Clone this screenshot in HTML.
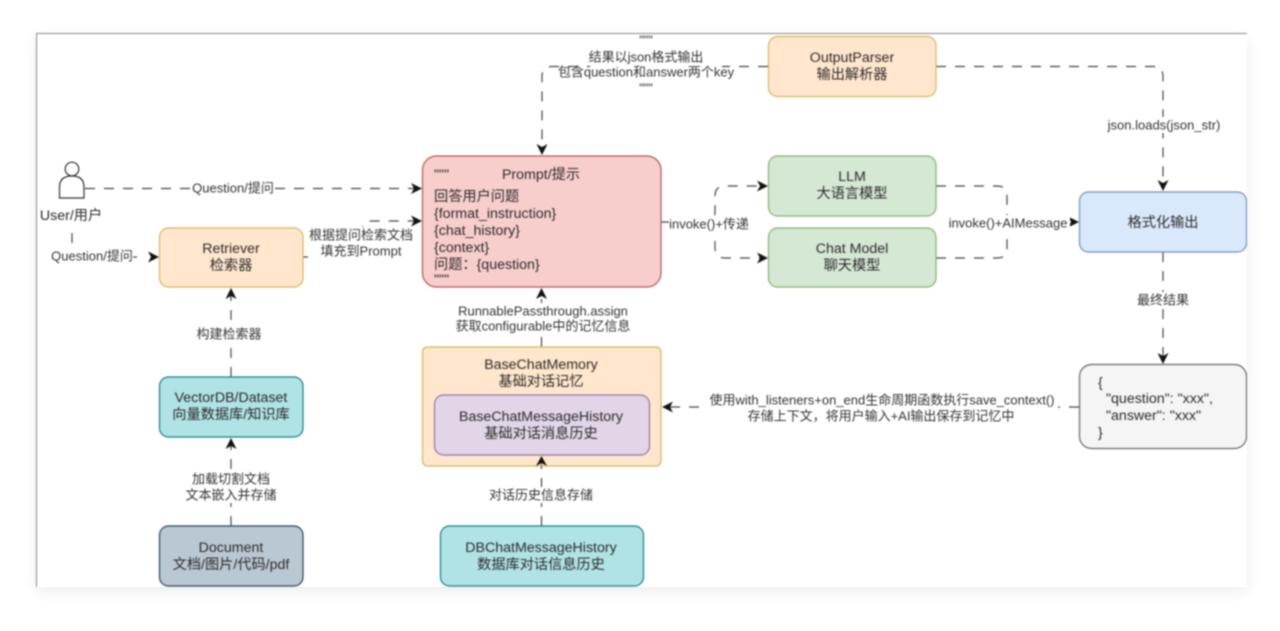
<!DOCTYPE html>
<html>
<head>
<meta charset="utf-8">
<style>
html,body{margin:0;padding:0;width:1280px;height:631px;background:#fff;overflow:hidden}
#frame{position:absolute;left:36px;top:33px;width:1211px;height:554px;background:#fff;box-shadow:0 5px 14px rgba(0,0,0,.07)}
svg{position:absolute;left:0;top:0;filter:blur(.7px)}
text{font-family:"Liberation Sans","Noto Sans CJK SC",sans-serif;fill:#2a2a2a;text-anchor:middle;dominant-baseline:central}
.n{font-size:14.2px}
.e{font-size:13px;fill:#333}
.l{text-anchor:start}
.c{fill:none;stroke:#444;stroke-width:1.2;stroke-dasharray:10 9}
.h{fill:#111;stroke:none}
</style>
</head>
<body>
<div id="frame"></div>
<svg width="1280" height="631" viewBox="0 0 1280 631" xmlns="http://www.w3.org/2000/svg">
<defs>
<clipPath id="cl"><rect x="36" y="33" width="1211" height="554"/></clipPath>
</defs>
<path d="M36.5 587V33.5H1247" fill="none" stroke="#8a8a8a" stroke-width="1"/>
<g clip-path="url(#cl)">
<!-- connectors -->
<path class="c" d="M85 188.5H414"/>
<path class="c" d="M72 233V243"/>
<path class="c" d="M133 257H137"/>
<path class="c" d="M303 257H352Q362 257 362 247V231Q362 221 372 221H414"/>
<path class="c" d="M231 377V296"/>
<path class="c" d="M231 526V446"/>
<path class="c" d="M541.5 347V297"/>
<path class="c" d="M541.5 526V464"/>
<path class="c" d="M768 66.5H552Q542 66.5 542 76.5V147"/>
<path class="c" d="M936 66.5H1153Q1163 66.5 1163 76.5V184"/>
<path class="c" d="M661 222H705Q715 222 715 212V196Q715 186 725 186H760"/>
<path class="c" d="M715 222V248Q715 258 725 258H760"/>
<path class="c" d="M936 186H997Q1007 186 1007 196V222"/>
<path class="c" d="M936 258H997Q1007 258 1007 248V222H1070"/>
<path class="c" d="M1163 252V356"/>
<path class="c" d="M1079 407H670"/>
<!-- arrowheads -->
<path class="h" d="M422 188.5L411 183L414 188.5L411 194Z"/>
<path class="h" d="M422 221L411 215.5L414 221L411 226.5Z"/>
<path class="h" d="M159 257L148 251.500L151 257L148 262.500Z"/>
<path class="h" d="M768 186L757 180.500L760 186L757 191.500Z"/>
<path class="h" d="M768 258L757 252.500L760 258L757 263.500Z"/>
<path class="h" d="M1079 222L1068 216.500L1071 222L1068 227.500Z"/>
<path class="h" d="M231 288L225.500 299L231 296L236.500 299Z"/>
<path class="h" d="M231 438L225.500 449L231 446L236.500 449Z"/>
<path class="h" d="M541.500 288L536 299L541.500 296L547 299Z"/>
<path class="h" d="M542 155L536.500 144L542 147L547.500 144Z"/>
<path class="h" d="M1163 191L1157.500 180L1163 183L1168.500 180Z"/>
<path class="h" d="M1163 364L1157.500 353L1163 356L1168.500 353Z"/>
<path class="h" d="M662 407L673 401.500L670 407L673 412.500Z"/>
<!-- user -->
<circle cx="72" cy="169" r="6.800" fill="#fff" stroke="#333" stroke-width="1.200"/>
<path d="M59.500 198V187Q59.500 176 72 176Q84 176 84 187V198Z" fill="#fff" stroke="#333" stroke-width="1.200"/>
<!-- nodes -->
<rect x="159.500" y="228" width="143.500" height="59" rx="9" fill="#ffe6cc" stroke="#d6b656" stroke-width="1.200"/>
<rect x="159.500" y="377" width="143.500" height="60" rx="9" fill="#b0e3e6" stroke="#0e8088" stroke-width="1.200"/>
<rect x="159.500" y="526" width="143.500" height="60" rx="9" fill="#bac8d3" stroke="#23445d" stroke-width="1.200"/>
<rect x="422.500" y="156" width="238.500" height="131" rx="14" fill="#f8cecc" stroke="#b85450" stroke-width="1.200"/>
<rect x="768.500" y="36.500" width="167.500" height="60" rx="9" fill="#ffe6cc" stroke="#d6b656" stroke-width="1.200"/>
<rect x="768.500" y="156" width="167.500" height="60" rx="9" fill="#d5e8d4" stroke="#82b366" stroke-width="1.200"/>
<rect x="768.500" y="228" width="167.500" height="59" rx="9" fill="#d5e8d4" stroke="#82b366" stroke-width="1.200"/>
<rect x="1079.500" y="192" width="167" height="60" rx="9" fill="#dae8fc" stroke="#6c8ebf" stroke-width="1.200"/>
<rect x="1079.500" y="364.500" width="167" height="84" rx="12" fill="#f5f5f5" stroke="#666" stroke-width="1.200"/>
<rect x="422.500" y="347" width="238.500" height="119" rx="5" fill="#ffe6cc" stroke="#d6b656" stroke-width="1.200"/>
<rect x="434.500" y="395" width="215" height="60" rx="9" fill="#e1d5e7" stroke="#9673a6" stroke-width="1.200"/>
<rect x="440.500" y="526" width="203" height="60" rx="9" fill="#b0e3e6" stroke="#0e8088" stroke-width="1.200"/>
<!-- arrow overlapping the memory box -->
<path d="M541.500 462V466" fill="none" stroke="#777" stroke-width="1.200"/>
<path class="h" d="M541.500 456L536 466L541.500 463L547 466Z"/>
<!-- label backgrounds -->
<g fill="#fff">
<rect x="192" y="180" width="82" height="16"/>
<rect x="308" y="227" width="106" height="32"/>
<rect x="196" y="326" width="68" height="16"/>
<rect x="191" y="471" width="80" height="32"/>
<rect x="458" y="303" width="176" height="31"/>
<rect x="489" y="487" width="105" height="16"/>
<rect x="590" y="50" width="132" height="30"/>
<rect x="1106" y="117" width="115" height="16"/>
<rect x="669" y="216" width="82" height="16"/>
<rect x="948" y="215" width="122" height="16"/>
<rect x="1136" y="292" width="54" height="16"/>
<rect x="707" y="392" width="351" height="32"/>
</g>
<!-- node text -->
<text class="n" x="231" y="249">Retriever</text>
<text class="n" x="231" y="266">检索器</text>
<text class="n" x="231" y="398">VectorDB/Dataset</text>
<text class="n" x="231" y="415">向量数据库/知识库</text>
<text class="n" x="231" y="548">Document</text>
<text class="n" x="231" y="565">文档/图片/代码/pdf</text>
<text class="n" x="541" y="175">Prompt/提示</text>
<text class="n l" x="434" y="175">"""</text>
<text class="n l" x="434" y="197">回答用户问题</text>
<text class="n l" x="434" y="214">{format_instruction}</text>
<text class="n l" x="434" y="231">{chat_history}</text>
<text class="n l" x="434" y="248">{context}</text>
<text class="n l" x="434" y="265">问题：{question}</text>
<text class="n l" x="434" y="280">"""</text>
<text class="n" x="852" y="58">OutputParser</text>
<text class="n" x="852" y="75">输出解析器</text>
<text class="n" x="852" y="177">LLM</text>
<text class="n" x="852" y="194">大语言模型</text>
<text class="n" x="852" y="249">Chat Model</text>
<text class="n" x="852" y="266">聊天模型</text>
<text class="n" x="1163" y="223">格式化输出</text>
<text class="n l" x="1098" y="383">{</text>
<text class="n l" x="1106" y="399">"question": "xxx",</text>
<text class="n l" x="1106" y="416">"answer": "xxx"</text>
<text class="n l" x="1098" y="433">}</text>
<text class="n" x="541" y="365">BaseChatMemory</text>
<text class="n" x="541" y="382">基础对话记忆</text>
<text class="n" x="541" y="417">BaseChatMessageHistory</text>
<text class="n" x="541" y="434">基础对话消息历史</text>
<text class="n" x="541" y="548">DBChatMessageHistory</text>
<text class="n" x="541" y="565">数据库对话信息历史</text>
<text class="n" x="71" y="216">User/用户</text>
<!-- edge labels -->
<text class="e" x="233" y="188">Question/提问</text>
<text class="e" x="92" y="256">Question/提问</text>
<text class="e" x="361" y="235">根据提问检索文档</text>
<text class="e" x="361" y="251">填充到Prompt</text>
<text class="e" x="229" y="334">构建检索器</text>
<text class="e" x="231" y="479">加载切割文档</text>
<text class="e" x="231" y="495">文本嵌入并存储</text>
<text class="e" x="543" y="311">RunnablePassthrough.assign</text>
<text class="e" x="543" y="326">获取configurable中的记忆信息</text>
<text class="e" x="541" y="495">对话历史信息存储</text>
<text class="e" x="646" y="40">"""</text>
<text class="e" x="646" y="57">结果以json格式输出</text>
<text class="e" x="646" y="72">包含question和answer两个key</text>
<text class="e" x="646" y="88">"""</text>
<text class="e" x="1164" y="125">json.loads(json_str)</text>
<text class="e" x="709" y="224">invoke()+传递</text>
<text class="e" x="1008" y="223">invoke()+AIMessage</text>
<text class="e" x="1163" y="300">最终结果</text>
<text class="e" x="882" y="400">使用with_listeners+on_end生命周期函数执行save_context()</text>
<text class="e" x="881" y="416">存储上下文，将用户输入+AI输出保存到记忆中</text>
</g>
</svg>
</body>
</html>
